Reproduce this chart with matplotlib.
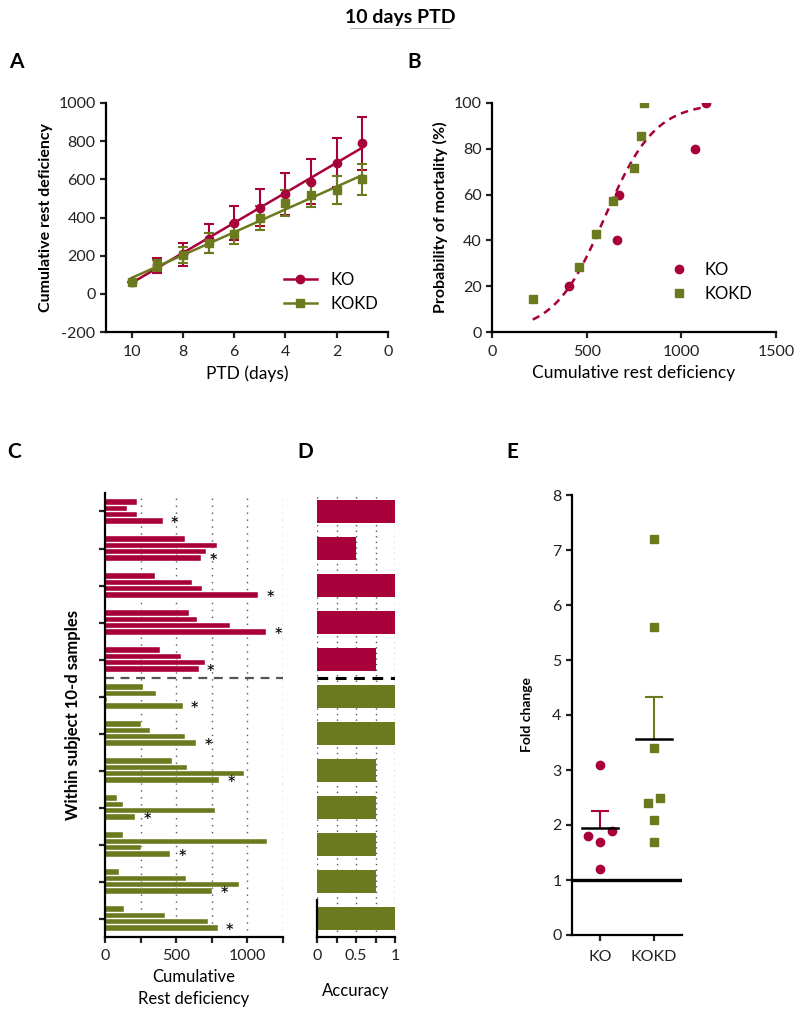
import numpy as np
import matplotlib.pyplot as plt
from matplotlib.lines import Line2D

KO_COLOR = '#A8003B'
KOKD_COLOR = '#6B7A1E'

# Panel A - cumulative rest deficiency by day before death
days = [10, 9, 8, 7, 6, 5, 4, 3, 2, 1]
ko_mean = [61, 149, 207, 289, 372, 451, 521, 588, 688, 789]
ko_sem = [0, 40, 60, 75, 90, 96, 110, 118, 128, 140]
kokd_mean = [61, 149, 205, 267, 316, 395, 474, 516, 544, 600]
kokd_sem = [0, 30, 42, 52, 56, 63, 68, 63, 73, 80]

# Panel B - mortality vs cumulative rest deficiency
ko_rest = [408, 658, 672, 1070, 1128]
ko_mort = [20, 40, 60, 80, 100]
kokd_rest = [215, 460, 548, 637, 748, 789, 801]
kokd_mort = [14.3, 28.6, 42.9, 57.1, 71.4, 85.7, 100]
fit_mid = 595
fit_scale = 133

# Panel C - within subject 10-d samples (4 samples per subject)
ko_samples = [
    [224, 153, 228, 407],
    [565, 784, 711, 675],
    [348, 609, 682, 1075],
    [593, 647, 875, 1132],
    [384, 534, 701, 659],
]
kokd_samples = [
    [264, 355, 12, 546],
    [254, 318, 560, 640],
    [473, 576, 979, 802],
    [87, 127, 772, 214],
    [129, 1141, 252, 459],
    [99, 567, 944, 753],
    [136, 424, 720, 791],
]

# Panel D - accuracy per subject
ko_acc = [1, 0.5, 1, 1, 0.75]
kokd_acc = [1, 1, 0.75, 0.75, 0.75, 0.75, 1]

# Panel E - fold change
ko_fold = [3.1, 1.8, 1.7, 1.9, 1.2]
ko_jitter = [0, -0.22, 0, 0.22, 0]
kokd_fold = [7.2, 5.6, 3.4, 2.4, 2.5, 2.1, 1.7]
kokd_jitter = [0, 0, 0, -0.11, 0.11, 0, 0]

plt.rcParams['font.family'] = ['Lato', 'DejaVu Sans']
plt.rcParams['font.size'] = 11.5
plt.rcParams['axes.unicode_minus'] = False
plt.rcParams['axes.linewidth'] = 1.6
plt.rcParams['xtick.major.width'] = 1.6
plt.rcParams['ytick.major.width'] = 1.6
plt.rcParams['xtick.minor.width'] = 1.6
plt.rcParams['xtick.major.size'] = 4
plt.rcParams['ytick.major.size'] = 4
plt.rcParams['xtick.minor.size'] = 4
plt.rcParams['xtick.major.pad'] = 5
plt.rcParams['xtick.color'] = '#222222'
plt.rcParams['ytick.color'] = '#222222'
plt.rcParams['xtick.labelcolor'] = '#222222'
plt.rcParams['ytick.labelcolor'] = '#222222'

W, H = 800, 1017
fig = plt.figure(figsize=(W / 100, H / 100), dpi=100)


def px_axes(left, top, right, bottom):
    return fig.add_axes([left / W, 1 - bottom / H, (right - left) / W, (bottom - top) / H])


def clean(ax):
    ax.spines['top'].set_visible(False)
    ax.spines['right'].set_visible(False)


# title and panel letters
fig.text(0.5, 1 - 18 / H, '10 days PTD', ha='center', va='center', fontsize=14, fontweight='bold')
fig.add_artist(Line2D([350 / W, 450 / W], [1 - 28 / H, 1 - 28 / H], color='#aaaaaa', lw=0.6))
for letter, x, y in [('A', 16, 62), ('B', 414, 62), ('C', 14, 452), ('D', 305, 452), ('E', 512, 452)]:
    fig.text(x / W, 1 - y / H, letter, ha='center', va='center', fontsize=15, fontweight='bold')

# ---- Panel A
ax = px_axes(106, 103, 388, 332)
clean(ax)
for mean, sem, col, mk, lab in [(ko_mean, ko_sem, KO_COLOR, 'o', 'KO'),
                                (kokd_mean, kokd_sem, KOKD_COLOR, 's', 'KOKD')]:
    ax.errorbar(days, mean, yerr=sem, fmt=mk, color=col, ms=6, capsize=3.5,
                elinewidth=1.5, capthick=1.5, zorder=3)
    k, b = np.polyfit(days, mean, 1)
    xs = np.array([10, 1])
    ax.plot(xs, k * xs + b, color=col, lw=1.8, zorder=2)
ax.set_xlim(11, 0)
ax.set_ylim(-200, 1000)
ax.set_xticks([10, 8, 6, 4, 2, 0])
ax.set_yticks(range(-200, 1001, 200))
ax.set_xlabel('PTD (days)', labelpad=5, fontsize=12.5)
ax.set_ylabel('Cumulative rest deficiency', fontweight='bold', fontsize=11.5, labelpad=4)
handles = [Line2D([], [], color=KO_COLOR, marker='o', ms=6, lw=1.8),
           Line2D([], [], color=KOKD_COLOR, marker='s', ms=6, lw=1.8)]
ax.legend(handles, ['KO', 'KOKD'], loc='center left', bbox_to_anchor=(0.63, 0.175),
          frameon=False, borderaxespad=0, borderpad=0, handlelength=2.0,
          handletextpad=0.8, labelspacing=0.45, fontsize=12)

# ---- Panel B
ax = px_axes(492, 103, 776, 332)
clean(ax)
xs = np.linspace(min(kokd_rest), max(ko_rest), 200)
ax.plot(xs, 100 / (1 + np.exp(-(xs - fit_mid) / fit_scale)), color=KO_COLOR, lw=1.8,
        ls=(0, (3, 2.2)), zorder=2)
ax.plot(ko_rest, ko_mort, 'o', color=KO_COLOR, ms=6, zorder=3, label='KO')
ax.plot(kokd_rest, kokd_mort, 's', color=KOKD_COLOR, ms=6, zorder=3, label='KOKD')
ax.set_xlim(0, 1500)
ax.set_ylim(0, 100)
ax.set_xticks([0, 500, 1000, 1500])
ax.set_yticks(range(0, 101, 20))
ax.set_xlabel('Cumulative rest deficiency', labelpad=5, fontsize=12.5)
ax.set_ylabel('Probability of mortality (%)', fontweight='bold', fontsize=11.5, labelpad=4)
ax.legend(loc='center left', bbox_to_anchor=(0.63, 0.218), frameon=False, borderaxespad=0,
          borderpad=0, handlelength=1.0, handletextpad=1.0, labelspacing=0.45, fontsize=12)

# ---- Panel C
ax = px_axes(105, 493, 283, 937)
clean(ax)
groups = ko_samples + kokd_samples
colors = [KO_COLOR] * len(ko_samples) + [KOKD_COLOR] * len(kokd_samples)
offsets = [-0.255, -0.085, 0.085, 0.255]
for g, (vals, col) in enumerate(zip(groups, colors)):
    ys = [g + o for o in offsets]
    ax.barh(ys, vals, height=0.14, color=col, edgecolor='white', linewidth=0.3, zorder=2)
    ax.text(vals[-1] + 50, ys[-1] + 0.14, '*', fontsize=16, ha='left', va='center', zorder=3)
for xv in [250, 500, 750, 1000, 1250]:
    ax.axvline(xv, color='#555555', lw=1.0, ls=(0, (1, 4)), zorder=1)
ax.axhline(len(ko_samples) - 0.5, color='#555555', lw=1.6, ls=(0, (4, 3)), zorder=1)
ax.set_ylim(len(groups) - 0.5, -0.5)
ax.set_xlim(0, 1250)
ax.set_yticks(range(len(groups)))
ax.set_yticklabels([])
ax.set_xticks([0, 500, 1000])
ax.set_xticks([250, 750, 1250], minor=True)
ax.set_xlabel('Cumulative\nRest deficiency', labelpad=4, linespacing=1.45, fontsize=12)
ax.set_ylabel('Within subject 10-d samples', fontweight='bold', fontsize=12, labelpad=10)

# ---- Panel D
ax = px_axes(317, 493, 395, 937)
clean(ax)
acc = ko_acc + kokd_acc
ax.barh(range(len(acc)), acc, height=0.6, color=colors, zorder=2)
for xv in [0, 0.25, 0.5, 0.75, 1]:
    ax.axvline(xv, color='#555555', lw=1.0, ls=(0, (1, 3)), zorder=1)
ax.axhline(len(ko_acc) - 0.5, color='black', lw=2.2, ls=(0, (3.5, 2.5)), zorder=3)
ax.set_ylim(len(acc) - 0.5, -0.5)
ax.set_xlim(0, 1)
ax.spines['left'].set_bounds(len(acc) - 1.5, len(acc) - 0.5)
ax.set_yticks([])
ax.set_xticks([0, 0.5, 1])
ax.set_xticklabels(['0', '0.5', '1'])
ax.set_xticks([0.25, 0.75], minor=True)
ax.set_xlabel('Accuracy', labelpad=14, fontsize=12)

# ---- Panel E
ax = px_axes(572, 495, 682, 935)
clean(ax)
ax.axhline(1, color='black', lw=2.4, zorder=2)
for pos, vals, jit, col, mk in [(1, ko_fold, ko_jitter, KO_COLOR, 'o'),
                                (2, kokd_fold, kokd_jitter, KOKD_COLOR, 's')]:
    ax.plot([pos + j for j in jit], vals, mk, color=col, ms=6, zorder=3)
    m = np.mean(vals)
    sem = np.std(vals, ddof=1) / np.sqrt(len(vals))
    ax.plot([pos, pos], [m, m + sem], color=col, lw=1.5, zorder=2)
    ax.plot([pos - 0.15, pos + 0.15], [m + sem, m + sem], color=col, lw=1.5, zorder=2)
    ax.plot([pos - 0.34, pos + 0.34], [m, m], color='black', lw=1.8, zorder=4)
ax.set_xlim(0.48, 2.52)
ax.set_ylim(0, 8)
ax.set_yticks(range(0, 9))
ax.set_xticks([1, 2])
ax.set_xticklabels(['KO', 'KOKD'])
ax.tick_params(axis='x', pad=7)
ax.set_ylabel('Fold change', fontweight='bold', fontsize=10, labelpad=14)

fig.savefig('out.png', dpi=100)
